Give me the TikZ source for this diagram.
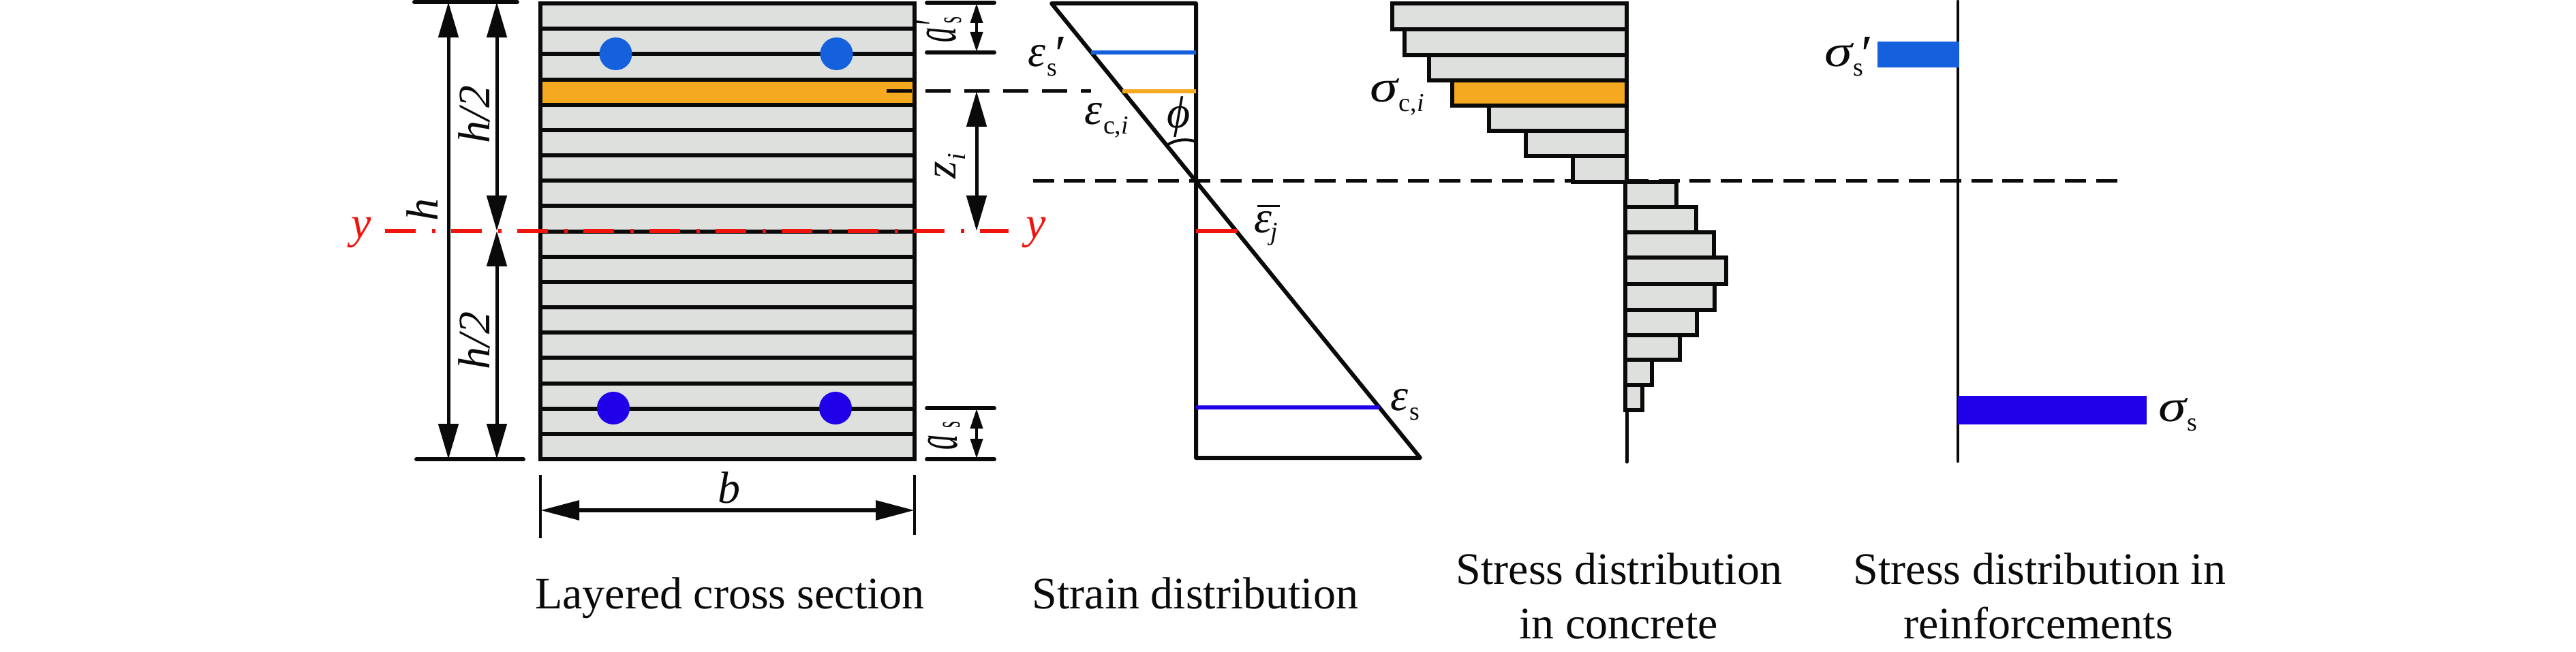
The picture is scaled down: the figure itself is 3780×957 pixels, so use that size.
\documentclass[tikz,border=0pt]{standalone}
\usepackage{fontspec}
\setmainfont{Liberation Serif}
\usetikzlibrary{arrows.meta}
\definecolor{concrete}{HTML}{DDE0DC}
\definecolor{layerorange}{HTML}{F5A921}
\definecolor{barblue}{HTML}{1560DD}
\definecolor{deepblue}{HTML}{2000E8}
\definecolor{axisred}{HTML}{F0140F}
\definecolor{ink}{HTML}{0A0A0A}
\newcommand\bigsz{\fontsize{66}{66}\selectfont}
\newcommand\subsz{\fontsize{38}{38}\selectfont}
\newcommand\primesym[1]{\rlap{\kern#1\raisebox{-8pt}{\fontsize{78}{78}\selectfont\itshape ′}}}
\newcommand\wsig{\scalebox{1.25}[1]{\itshape σ}}
% symbol, subscript
\newcommand\symb[2]{{\itshape #1}\kern2pt\raisebox{-14pt}{\subsz #2}}
% symbol, subscript, prime offset
\newcommand\symbp[3]{{\itshape #1}\kern2pt\primesym{#3}\raisebox{-14pt}{\subsz #2}}
\tikzset{
  lbl/.style={inner sep=0pt,outer sep=0pt,anchor=base west,font=\bigsz,text=ink},
  vlbl/.style={lbl,rotate=90},
  captext/.style={inner sep=0pt,outer sep=0pt,anchor=base,font=\bigsz,text=ink},
  layerline/.style={ink,line width=6pt},
  dimline/.style={ink,line width=5pt,{Triangle[length=52pt,width=29pt]}-{Triangle[length=52pt,width=29pt]}},
  smalldim/.style={ink,line width=4pt,{Triangle[length=29pt,width=18pt]}-{Triangle[length=29pt,width=18pt]}},
  tickline/.style={ink,line width=6pt,line cap=round},
  extline/.style={ink,line width=3.5pt},
  dashone/.style={ink,line width=5pt,dash pattern=on 37pt off 20pt},
  dashtwo/.style={ink,line width=5pt,dash pattern=on 31pt off 14.9pt},
  redaxis/.style={axisred,line width=6pt,dash pattern=on 45pt off 24pt on 5pt off 23pt},
  strainline/.style={ink,line width=6pt,line join=round,line cap=round},
  barbox/.style={draw=ink,fill=concrete,line width=6pt},
  orangebox/.style={draw=ink,fill=layerorange,line width=6pt},
  rebar/.style={circle,minimum size=48pt,inner sep=0pt,outer sep=0pt}
}
\begin{document}
\begin{tikzpicture}[x=1pt,y=-1pt]
\useasboundingbox (0,0) rectangle (3780,957);
% cross section
\fill[concrete] (793,5) rectangle (1342,674);
\fill[layerorange] (793,116) rectangle (1342,153);
\foreach \i in {0,...,18}{
  \draw[layerline] (793,{5+37.17*\i}) -- (1342,{5+37.17*\i});
}
\draw[ink,line width=5.5pt] (793,2) -- (793,677) (1342,2) -- (1342,677);
\node[rebar,fill=barblue] (r1) at (903.5,79) {};
\node[rebar,fill=barblue] (r2) at (1227.5,79) {};
\node[rebar,fill=deepblue] (r3) at (900,599) {};
\node[rebar,fill=deepblue] (r4) at (1226,599) {};
% left dimensions
\coordinate (tl) at (608,3); \coordinate (tr) at (759,3);
\coordinate (bl) at (611,674); \coordinate (br) at (768,674);
\coordinate (ht) at (658,3); \coordinate (hb) at (658,674);
\coordinate (h2t) at (729,3); \coordinate (h2m) at (729,339); \coordinate (h2b) at (729,674);
\draw[tickline] (tl) -- (tr);
\draw[tickline] (bl) -- (br);
\draw[dimline] (ht) -- (hb);
\draw[dimline] (h2t) -- (h2m);
\draw[dimline] (h2m) -- (h2b);
\node[vlbl,anchor=center] (lh) at (620,308) {\itshape h};
\node[vlbl,anchor=center] (lh2a) at (696,168) {\itshape h/2};
\node[vlbl,anchor=center] (lh2b) at (696,500) {\itshape h/2};
% right dimensions
\coordinate (a1) at (1360,4); \coordinate (a2) at (1459,4);
\coordinate (a3) at (1360,77); \coordinate (a4) at (1459,77);
\coordinate (a5) at (1360,599); \coordinate (a6) at (1459,599);
\coordinate (a7) at (1360,674); \coordinate (a8) at (1459,674);
\draw[tickline] (a1) -- (a2);
\draw[tickline] (a3) -- (a4);
\draw[tickline] (a5) -- (a6);
\draw[tickline] (a7) -- (a8);
\coordinate (d1) at (1433,5); \coordinate (d2) at (1433,76);
\coordinate (d3) at (1433,600); \coordinate (d4) at (1433,673);
\coordinate (z1) at (1433,134); \coordinate (z2) at (1433,339);
\draw[smalldim] (d1) -- (d2);
\draw[smalldim] (d3) -- (d4);
\draw[dimline] (z1) -- (z2);
\node[vlbl] (las) at (1402,63) {\scalebox{.67}[1.37]{{\itshape a}\kern10pt\rlap{\kern-10pt\raisebox{-2pt}{\fontsize{70}{70}\selectfont\itshape ′}}\raisebox{-6pt}{\subsz s}}};
\node[vlbl] (lass) at (1404,660) {\scalebox{.67}[1.37]{{\itshape a}\kern14pt\raisebox{-3pt}{\subsz s}}};
\node[vlbl] (lz) at (1402,263) {\symb{z}{\itshape i}};
% width dimension
\coordinate (e1) at (793,697); \coordinate (e2) at (793,790);
\coordinate (e3) at (1342,697); \coordinate (e4) at (1342,785);
\coordinate (b1) at (793,749); \coordinate (b2) at (1342,749);
\draw[extline] (e1) -- (e2);
\draw[extline] (e3) -- (e4);
\draw[ink,line width=6pt,{Triangle[length=57pt,width=28pt]}-{Triangle[length=57pt,width=28pt]}] (b1) -- (b2);
\node[lbl,anchor=base] (lb) at (1070,738) {\itshape b};
% strain profile
\coordinate (s1) at (1543,5); \coordinate (s2) at (1755,5);
\coordinate (s3) at (1755,672); \coordinate (s4) at (2084,672);
\draw[strainline] (s1) -- (s2) -- (s3) -- (s4) -- cycle;
\draw[barblue,line width=5.5pt] (1601,77) -- (1755,77);
\draw[layerorange,line width=5.5pt] (1647,134) -- (1755,134);
\draw[axisred,line width=5.5pt] (1755,339) -- (1816,339);
\draw[deepblue,line width=5.5pt] (1755,598) -- (2024,598);
\draw[ink,line width=4pt] (1714,212) .. controls (1725,205) and (1742,203) .. (1755,208);
\node[lbl] (le1) at (1508,98) {\symbp{ε}{s}{7pt}};
\node[lbl] (le2) at (1591,183) {\symb{ε}{c,\textit{i}}};
\node[lbl,anchor=base] (lphi) at (1730,188) {\itshape ϕ};
\node[lbl] (le3) at (1840,342) {\rlap{\raisebox{38pt}{\kern5pt\rule{33pt}{2.5pt}}}{\itshape ε}\kern-2pt\raisebox{-11pt}{\subsz\itshape j}};
\node[lbl] (le4) at (2040,602) {\symb{ε}{s}};
% dashed lines
\coordinate (dsA) at (1301,134); \coordinate (dsB) at (1601,134);
\coordinate (dsC) at (1515.5,266); \coordinate (dsD) at (3107,266);
\draw[dashone] (dsA) -- (dsB);
\draw[dashtwo] (dsC) -- (dsD);
% red axis
\coordinate (yL) at (565,339); \coordinate (yR) at (1480,339);
\draw[redaxis] (yL) -- (yR);
\node[lbl,text=axisred,anchor=base] (ly1) at (530,350) {\itshape y};
\node[lbl,text=axisred,anchor=base] (ly2) at (1520,350) {\itshape y};
% concrete stress
\draw[barbox] (2043,5.5) rectangle (2387,43);
\draw[barbox] (2061,43) rectangle (2387,81);
\draw[barbox] (2097,81) rectangle (2387,118);
\draw[orangebox] (2131,118) rectangle (2387,155.5);
\draw[barbox] (2185,155.5) rectangle (2387,192);
\draw[barbox] (2239,192) rectangle (2387,229);
\draw[barbox] (2308,229) rectangle (2387,267);
\draw[barbox] (2385,267) rectangle (2460,304);
\draw[barbox] (2385,304) rectangle (2489,341.5);
\draw[barbox] (2385,341.5) rectangle (2515,378);
\draw[barbox] (2385,378) rectangle (2533,417);
\draw[barbox] (2385,417) rectangle (2516,454.5);
\draw[barbox] (2385,454.5) rectangle (2490,491.5);
\draw[barbox] (2385,491.5) rectangle (2465,528);
\draw[barbox] (2385,528) rectangle (2424,565);
\draw[barbox] (2385,565) rectangle (2410,602);
\coordinate (c1) at (2387,2); \coordinate (c2) at (2387,267);
\coordinate (c3) at (2385,267); \coordinate (c4) at (2385,602);
\coordinate (c5) at (2387,602); \coordinate (c6) at (2387,678);
\draw[ink,line width=6pt] (c1) -- (c2);
\draw[ink,line width=6pt] (c3) -- (c4);
\draw[ink,line width=5pt,line cap=round] (c5) -- (c6);
\node[lbl] (lsc) at (2010,150) {\symb{\wsig}{c,\textit{i}}};
% reinforcement stress
\coordinate (f1) at (2873,2); \coordinate (f2) at (2873,677);
\draw[ink,line width=4.5pt,line cap=round] (f1) -- (f2);
\fill[barblue] (2755,61) rectangle (2875,99);
\fill[deepblue] (2873,581) rectangle (3150,623);
\node[lbl] (ls1) at (2677,98) {\symbp{\wsig}{s}{7pt}};
\node[lbl] (ls2) at (3167,618) {\symb{\wsig}{s}};
% captions
\node[captext] (c-a) at (1071,893) {Layered cross section};
\node[captext] (c-b) at (1754,893) {Strain distribution};
\node[captext] (c-c1) at (2376,857) {Stress distribution};
\node[captext] (c-c2) at (2375,937) {in concrete};
\node[captext] (c-d1) at (2993,857) {Stress distribution in};
\node[captext] (c-d2) at (2991,937) {reinforcements};
\end{tikzpicture}
\end{document}
